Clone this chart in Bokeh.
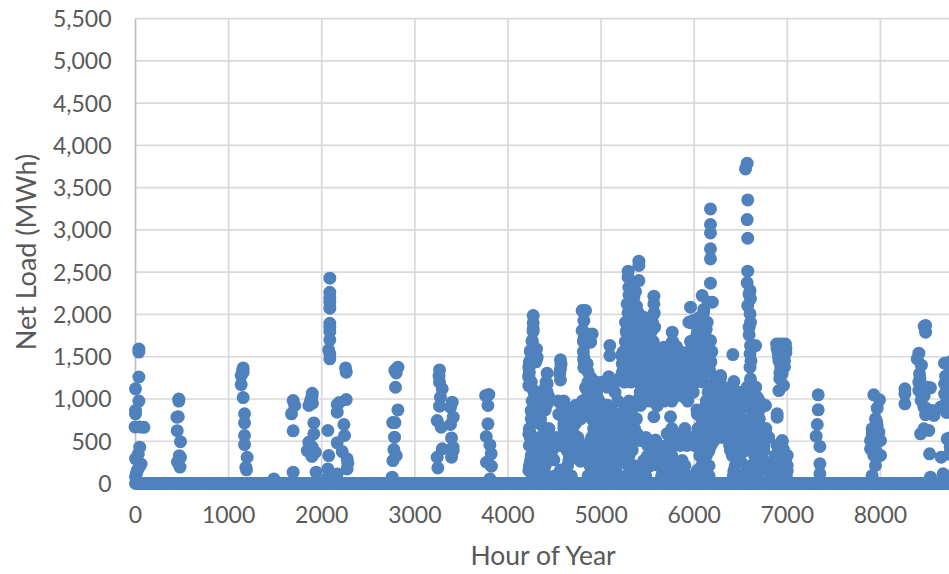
from bokeh.plotting import figure
from bokeh.models import FixedTicker, NumeralTickFormatter, Range1d, Title
from bokeh.embed import file_html
from bokeh.resources import INLINE

x_ticks = [0, 1000, 2000, 3000, 4000, 5000, 6000, 7000, 8000]
y_ticks = [0, 500, 1000, 1500, 2000, 2500, 3000, 3500, 4000, 4500, 5000, 5500]
x_title = "Hour of Year"
y_title = "Net Load (MWh)"

zero_hours = [0, 30, 95, 180, 270, 350, 440, 530, 610, 700, 790, 880, 960, 1050, 1140, 1230, 1310, 1400, 1490,
              1580, 1660, 1750, 1840, 1930, 2010, 2100, 2190, 2280, 2360, 2450, 2540, 2630, 2710, 2800, 2890,
              2980, 3060, 3150, 3240, 3330, 3410, 3500, 3590, 3680, 3760, 3850, 3940, 4030, 4110, 4200, 4290,
              4380, 4460, 4550, 4640, 4730, 4810, 4900, 4990, 5080, 5160, 5250, 5340, 5430, 5510, 5600, 5690,
              5780, 5860, 5950, 6040, 6130, 6210, 6300, 6390, 6480, 6560, 6650, 6740, 6830, 6910, 7000, 7090,
              7180, 7260, 7350, 7440, 7530, 7610, 7700, 7790, 7880, 7960, 8050, 8140, 8230, 8310, 8400, 8490,
              8580, 8660, 8750]

winter_spring = [
    (36, 1590), (36, 1555), (36, 1260), (0, 1120), (36, 975), (0, 865), (0, 825), (-5, 670), (45, 670), (90, 665),
    (45, 430), (30, 350), (0, 295), (40, 195), (20, 155), (0, 80), (60, 230), (10, 120),
    (465, 1000), (465, 975), (460, 790), (445, 785), (448, 625), (483, 495), (483, 310), (450, 255), (478, 195), (470, 330),
    (1156, 1368), (1156, 1317), (1135, 1277), (1135, 1171), (1156, 1017), (1171, 824), (1171, 717), (1171, 568),
    (1171, 461), (1199, 311), (1192, 162), (1150, 1340), (1185, 190),
    (1486, 55), (1693, 982), (1710, 923), (1675, 824), (1693, 623), (1693, 134),
    (1898, 1068), (1880, 982), (1862, 923), (1915, 717), (1915, 587), (1862, 489), (1898, 430), (1845, 390),
    (1932, 370), (1895, 1030), (1895, 320), (1940, 134), (1900, 950),
    (2087, 2429), (2087, 2263), (2087, 2200), (2087, 2145), (2087, 2074), (2087, 1896), (2087, 1850), (2087, 1798),
    (2087, 1699), (2075, 1581), (2087, 1534), (2087, 1475), (2066, 627), (2075, 331), (2066, 173), (2166, 114),
    (2256, 1368), (2263, 1317), (2263, 993), (2166, 934), (2166, 844), (2238, 698), (2245, 568), (2166, 481),
    (2220, 378), (2273, 292), (2273, 173), (2190, 960), (2280, 240), (2100, 60), (2060, 60),
    (2757, 75), (2818, 1376), (2800, 1309), (2792, 1139), (2818, 871), (2786, 721), (2762, 721), (2782, 548),
    (2775, 402), (2764, 272), (2785, 1340), (2800, 330),
    (3265, 1344), (3265, 1198), (3294, 1120), (3275, 1021), (3265, 915), (3240, 745), (3283, 666), (3401, 962),
    (3383, 903), (3412, 785), (3383, 698), (3394, 540), (3412, 390), (3394, 311), (3294, 410), (3240, 311),
    (3247, 185), (3260, 1270), (3410, 430),
    (3795, 1053), (3760, 1040), (3785, 923), (3785, 706), (3767, 556), (3806, 457), (3820, 351), (3770, 252),
    (3822, 205), (3806, 55),
]

summer_upper = [
    (6569, 3789), (6551, 3722), (6575, 3355), (6569, 3123), (6575, 2902), (6575, 2512), (6569, 2374), (6600, 2283),
    (6605, 2185), (6575, 2105), (6600, 2007), (6605, 1908), (6590, 1759), (6605, 1632), (6659, 1632), (6600, 1534),
    (6600, 1376), (6605, 1238), (6659, 1139), (6551, 1080), (6590, 2240), (6590, 1850), (6610, 1450),
    (6175, 3249), (6175, 3064), (6175, 2965), (6175, 2776), (6175, 2657), (6175, 2370), (6195, 2145), (6150, 2145),
    (6086, 2224), (5961, 2086), (6104, 2060), (5943, 1908), (6140, 1908), (6030, 1770), (6175, 1692), (6020, 1613),
    (6104, 1494), (6140, 1415), (5961, 1337), (6283, 1277), (6175, 1159), (6415, 1526), (6426, 1207), (6301, 1100),
    (6193, 982), (6050, 1960), (6040, 1700), (6130, 1830), (5990, 1930), (6090, 1620), (6130, 1600),
    (5406, 2630), (5406, 2579), (5291, 2512), (5406, 2401), (5298, 2322), (5352, 2204), (5280, 2125), (5298, 2027),
    (5263, 1908), (5273, 1790), (5280, 1672), (5330, 2330), (5370, 2270), (5300, 2230), (5380, 2100), (5330, 2040),
    (5340, 1950), (5290, 2440),
    (5567, 2216), (5567, 2125), (5567, 2007), (5550, 1908), (5531, 1790), (5495, 1672), (5459, 1968), (5459, 1810),
    (5520, 1950), (5440, 1880), (5575, 1850), (5400, 1980), (5500, 1720),
    (5764, 1790), (5764, 1672), (5764, 1573), (5810, 1620), (5740, 1500),
    (4797, 2046), (4833, 2046), (4815, 1928), (4797, 1810), (4905, 1770), (4815, 1711), (4887, 1672), (4830, 1650),
    (4271, 1987), (4271, 1830), (4260, 1692), (4242, 1573), (4307, 1590), (4307, 1475), (4235, 1396), (4224, 1278),
    (4224, 1159), (4278, 1100), (4271, 1900), (4255, 1500), (4290, 1530),
    (4564, 1463), (4564, 1356), (4564, 1226), (4570, 1410), (4555, 1300),
    (5094, 1632), (5094, 1514), (4815, 1455), (4851, 1415),
    (4421, 1305), (4421, 1179), (4421, 1041), (4421, 942), (4249, 864), (4350, 706), (4242, 588), (4421, 600),
    (4415, 1090), (4385, 950), (4325, 420),
    (6885, 1650), (6920, 1650), (6950, 1650), (6980, 1650), (6890, 1600), (6955, 1600), (6985, 1600), (6900, 1550),
    (6960, 1550), (6985, 1550), (6905, 1500), (6965, 1500), (6910, 1450), (6970, 1450), (6930, 1380), (6970, 1380),
    (6920, 1240), (6960, 1160), (6910, 1100), (6920, 1310), (6945, 1300),
    (6891, 785), (6945, 509), (6891, 450), (6999, 332), (6999, 213), (6855, 233), (6748, 253), (6748, 390), (6748, 607),
    (6910, 115), (6800, 130), (6950, 170), (6960, 400),
]

summer_lower = [
    (4224, 154), (4278, 154), (4385, 150), (4564, 160), (4994, 150), (5137, 155), (5334, 150), (5424, 158),
    (5710, 150), (5853, 160), (6032, 154), (6426, 150), (6569, 158), (6712, 150), (6891, 154), (7000, 150),
    (4242, 272), (4368, 265), (4493, 280), (4654, 272), (4779, 265), (4958, 275), (5101, 272), (5245, 268), (5459, 272),
    (5603, 280), (5871, 272), (6104, 265), (6498, 268), (6748, 272), (6981, 270),
    (4278, 390), (4403, 385), (4475, 395), (4636, 390), (4815, 385), (4994, 392), (5155, 388), (5334, 395), (5585, 390),
    (5710, 388), (6158, 385), (6390, 392), (6551, 390), (6677, 385), (6909, 395),
    (4385, 509), (4600, 505), (4726, 512), (4887, 509), (5083, 505), (5227, 512), (5424, 509), (5585, 515), (5746, 505),
    (5889, 509), (6068, 512), (6211, 505), (6426, 509), (6569, 512), (6945, 490),
    (4224, 587), (4421, 590), (4708, 585), (4922, 588), (5101, 592), (5388, 587), (5710, 590), (5853, 585), (6032, 588),
    (6247, 592), (6390, 587), (6569, 590), (6766, 585),
    (4350, 706), (4600, 700), (4726, 710), (5030, 702), (5155, 708), (5334, 706),
    (6158, 702), (6283, 706), (6426, 708), (6605, 700),
    (4260, 824), (4546, 820), (4708, 828), (4869, 824), (5012, 820), (5137, 826), (5298, 824), (5567, 790), (5746, 790),
    (6032, 824), (6175, 820), (6301, 828), (6462, 824), (6641, 820), (6891, 824),
    (4278, 923), (4403, 920), (4582, 926), (4726, 923), (4922, 920), (5066, 926), (5316, 960), (5424, 923), (5603, 920),
    (6122, 920), (6247, 926), (6390, 923), (6551, 920), (6677, 926), (6766, 923),
    (4350, 1021), (4439, 1025), (4851, 1018), (4958, 1021), (5459, 1029), (5638, 1021), (5782, 1018),
    (5889, 1025), (6193, 1021), (6319, 1018), (6426, 1025), (6677, 1021),
    (4403, 1139), (4833, 1135), (4922, 1142), (5066, 1139), (5603, 1142), (5746, 1139),
    (6175, 1142), (6319, 1139), (6408, 1135), (6569, 1142), (6659, 1139),
    (4224, 1258), (4887, 1255), (5083, 1262), (5209, 1258), (5388, 1255), (5531, 1262), (5674, 1258), (5800, 1255),
    (5943, 1262), (6032, 1258), (6283, 1255),
    (4224, 1376), (4815, 1372), (5263, 1380), (5459, 1376), (5603, 1372), (5782, 1380), (5961, 1376), (6158, 1372),
    (4314, 1494), (4815, 1490), (5227, 1498), (5352, 1494), (5531, 1490), (5746, 1498), (5853, 1494), (6032, 1490), (6140, 1498),
    (5227, 1534), (5227, 1415), (5352, 1480), (5531, 1573), (5531, 1415), (5674, 1613), (5638, 1337), (5674, 1179),
    (5853, 1494), (5800, 1179), (6000, 1415), (5352, 1258), (5424, 1200),
]

fill_hours_90 = [4260, 4330, 4420, 4500, 4600, 4680, 4860, 4920, 5060, 5120, 5200, 5280, 5380, 5480, 5650, 5700, 5780, 5900, 5970, 6040, 6100, 6160, 6420, 6500, 6620, 6660, 6900, 6990]
fill_hours_210 = [4230, 4310, 4400, 4640, 4880, 4930, 5020, 5080, 5170, 5290, 5360, 5420, 5530, 5620, 5680, 5760, 5900, 6080, 6160, 6440, 6600, 6680, 6780, 6860]
fill_hours_330 = [4250, 4340, 4420, 4660, 4730, 4800, 4880, 4940, 5000, 5080, 5140, 5220, 5300, 5500, 5700, 5760, 6060, 6130, 6410, 6470, 6650, 6720, 6870]
fill_hours_450 = [4230, 4300, 4400, 4480, 4560, 4640, 4700, 4760, 4840, 4900, 4970, 5040, 5120, 5190, 5270, 5330, 5500, 5620, 5700, 5780, 5850, 5920, 6000, 6100, 6180, 6380, 6470, 6530, 6620, 6750, 6900]
fill_hours_545 = [4240, 4340, 4440, 4520, 4620, 4680, 4750, 4900, 4960, 5040, 5100, 5180, 5260, 5320, 5400, 5480, 5780, 5880, 5950, 6030, 6120, 6200, 6300, 6380, 6450, 6520, 6600, 6680, 6800]
fill_hours_650 = [4230, 4390, 4440, 4600, 4690, 4920, 4990, 5060, 5130, 5190, 5280, 5360, 5760, 5900, 6040, 6110, 6200, 6280, 6360, 6440, 6520, 6590, 6680, 6770]
fill_hours_765 = [4250, 4350, 4600, 4660, 4780, 4900, 4960, 5040, 5120, 5220, 5300, 5380, 6080, 6130, 6220, 6300, 6370, 6440, 6510, 6600, 6700]
fill_hours_870 = [4340, 4400, 4600, 4660, 4780, 4880, 4950, 5020, 5110, 5250, 5330, 6030, 6110, 6180, 6280, 6350, 6420, 6500, 6620, 6700]
fill_hours_975 = [4260, 4320, 4400, 4430, 4540, 4600, 4800, 4900, 4980, 5180, 5300, 5380, 5450, 5520, 5600, 5680, 5760, 5930, 6130, 6230, 6300, 6370, 6460, 6560, 6650, 6700]
fill_hours_1080 = [4280, 4420, 4860, 4950, 5150, 5420, 5500, 5580, 5650, 5720, 5800, 5900, 5990, 6150, 6230, 6480, 6630]
fill_hours_1200 = [4250, 4410, 4860, 4950, 5020, 5150, 5250, 5320, 5400, 5470, 5540, 5610, 5720, 5800, 5880, 5960, 6020, 6100, 6220]
fill_hours_1320 = [4230, 4860, 5230, 5300, 5380, 5460, 5540, 5610, 5700, 5790, 5860, 5940, 6010, 6090, 6170]
fill_hours_1440 = [4230, 4300, 4820, 5240, 5300, 5400, 5470, 5600, 5700, 5800, 5900, 5990, 6080, 6180]
fill_hours_1560 = [4240, 4810, 5240, 5300, 5400, 5480, 5560, 5640, 5720, 5790, 5850, 5940, 6010, 6100, 6190]
fill_hours_1680 = [4260, 4810, 4880, 5260, 5330, 5400, 5470, 5560, 5770, 5960, 6030, 6110, 6170]
fill_hours_1800 = [4270, 4810, 5270, 5340, 5400, 5470, 5540, 6040, 6120]
fill_hours_1900 = [5270, 5330, 5400, 5470, 5550, 5970, 6050, 6110]
fill_hours_2020 = [5290, 5350, 5400, 5570, 6100]

fill_rows = [(90, fill_hours_90), (210, fill_hours_210), (330, fill_hours_330), (450, fill_hours_450),
             (545, fill_hours_545), (650, fill_hours_650), (765, fill_hours_765), (870, fill_hours_870),
             (975, fill_hours_975), (1080, fill_hours_1080), (1200, fill_hours_1200), (1320, fill_hours_1320),
             (1440, fill_hours_1440), (1560, fill_hours_1560), (1680, fill_hours_1680), (1800, fill_hours_1800),
             (1900, fill_hours_1900), (2020, fill_hours_2020)]

autumn_winter = [
    (7332, 1049), (7332, 872), (7322, 698), (7310, 560), (7350, 438), (7350, 233), (7350, 115),
    (7929, 1049), (7990, 990), (7965, 891), (7947, 765), (7965, 686), (7911, 647), (7983, 608), (7911, 588),
    (7894, 509), (8001, 509), (7894, 410), (7947, 410), (8001, 332), (7929, 332), (7947, 213), (7911, 95),
    (7940, 560), (7960, 730), (7925, 640), (7955, 480),
    (8263, 1120), (8263, 1061), (8263, 943), (8485, 1870), (8485, 1791), (8470, 1860), (8413, 1542), (8395, 1475),
    (8420, 1298), (8413, 1199), (8503, 1140), (8413, 1101), (8538, 1132), (8438, 982), (8467, 904), (8575, 805),
    (8485, 815), (8555, 864), (8646, 904), (8700, 943), (8742, 864), (8689, 1424), (8735, 1396), (8689, 1179),
    (8735, 1199), (8689, 1061), (8431, 588), (8467, 647), (8520, 627), (8528, 351), (8653, 312), (8717, 529),
    (8750, 430), (8674, 115), (8538, 75), (8440, 1400), (8425, 1240), (8445, 1040), (8700, 1270), (8750, 1440),
    (8745, 1100), (8740, 1000), (8710, 840), (8470, 1040), (8490, 890), (8750, 540), (8740, 345),
]

pairs = winter_spring + summer_upper + summer_lower + autumn_winter
pairs = pairs + [(h, v) for v, row in fill_rows for h in row]
hours = zero_hours + [h for h, _ in pairs]
loads = [0] * len(zero_hours) + [v for _, v in pairs]

BLUE = "#4f81bd"
TEXT = "#595959"
FONT = "Lato"
SIZE = "23px"

p = figure(width=949, height=574, frame_width=822, frame_height=483, output_backend="svg", toolbar_location=None,
           x_range=Range1d(-86, 8742), y_range=Range1d(-118, 5596),
           min_border_left=127, min_border_right=0, min_border_top=10, min_border_bottom=81,
           outline_line_color=None, background_fill_color="white")
p.grid.visible = False

x_end = 8742
p.segment(x0=[0] * len(y_ticks), y0=y_ticks, x1=[x_end] * len(y_ticks), y1=y_ticks,
          line_color="#d9d9d9", line_width=1.7)
p.segment(x0=x_ticks[1:], y0=[0] * 8, x1=x_ticks[1:], y1=[5500] * 8, line_color="#d9d9d9", line_width=1.7)
p.segment(x0=[0], y0=[0], x1=[0], y1=[5500], line_color="#bfbfbf", line_width=1.7)
p.line(zero_hours, [0] * len(zero_hours), line_color=BLUE, line_width=13)
p.scatter(hours, loads, size=13, fill_color=BLUE, line_color=BLUE, line_width=0)

for ax in (p.xaxis[0], p.yaxis[0]):
    ax.axis_line_color = None
    ax.major_tick_line_color = None
    ax.minor_tick_line_color = None
    ax.major_tick_out = 0
    ax.major_tick_in = 0
    ax.minor_tick_out = 0
    ax.major_label_text_font = FONT
    ax.major_label_text_font_size = SIZE
    ax.major_label_text_color = TEXT
p.xaxis[0].ticker = FixedTicker(ticks=x_ticks)
p.yaxis[0].ticker = FixedTicker(ticks=y_ticks)
p.yaxis[0].formatter = NumeralTickFormatter(format="0,0")
p.xaxis[0].major_label_standoff = 12
p.yaxis[0].major_label_standoff = 16

p.yaxis[0].axis_label = y_title
p.yaxis[0].axis_label_text_font = FONT
p.yaxis[0].axis_label_text_font_size = "27px"
p.yaxis[0].axis_label_text_font_style = "normal"
p.yaxis[0].axis_label_text_color = TEXT
p.yaxis[0].axis_label_standoff = 8

p.add_layout(Title(text=x_title, text_font=FONT, text_font_size="26.5px", text_font_style="normal", text_color=TEXT,
                   align="left", offset=343, standoff=23), "below")

open("out.html", "w").write(file_html(p, INLINE))
